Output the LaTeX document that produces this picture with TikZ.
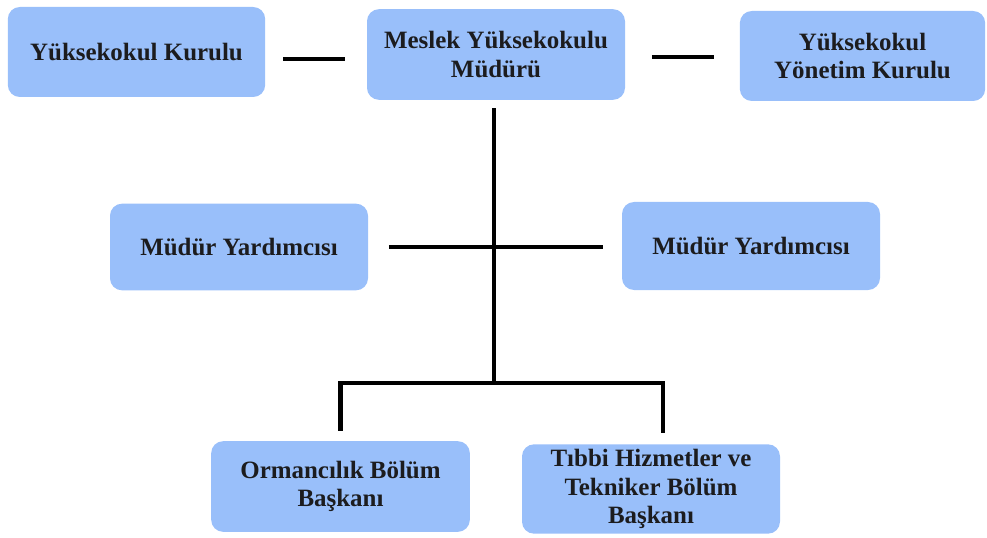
\documentclass[tikz,border=0pt]{standalone}
\usepackage{fontspec}
\setmainfont{Liberation Serif}
\usetikzlibrary{calc}
\definecolor{boxblue}{RGB}{153,191,250}
\definecolor{txt}{RGB}{28,28,30}
\tikzset{
  orgbox/.style={fill=boxblue, draw=none, rounded corners=9pt, align=center,
    text=txt, font=\fontsize{18.7}{21.2}\selectfont\bfseries, inner sep=2pt},
  link/.style={line width=3.4pt, black},
}
\begin{document}
\begin{tikzpicture}[x=0.75pt,y=-0.75pt]
\useasboundingbox (0,0) rectangle (987,538);
\node[orgbox, minimum width=193pt, minimum height=67.5pt] (b1) at (136.5,52) {Yüksekokul Kurulu};
\node[orgbox, minimum width=193.5pt, minimum height=68pt] (b2) at (496,54.5) {Meslek Yüksekokulu\\Müdürü};
\node[orgbox, minimum width=184pt, minimum height=67.5pt] (b3) at (862.5,56) {Yüksekokul\\Yönetim Kurulu};
\node[orgbox, minimum width=193.5pt, minimum height=65pt] (m1) at (239,247) {Müdür Yardımcısı};
\node[orgbox, minimum width=193.5pt, minimum height=66pt] (m2) at (751,246) {Müdür Yardımcısı};
\node[orgbox, minimum width=194pt, minimum height=68pt] (o1) at (340.5,486.5) {Ormancılık Bölüm\\Başkanı};
\node[orgbox, minimum width=193.5pt, minimum height=67pt] (o2) at (651,489) {Tıbbi Hizmetler ve\\Tekniker Bölüm\\Başkanı};
% side links
\coordinate (l1) at ($(b1.east)+(0,7)$);
\draw[link, shorten <=13.5pt, shorten >=16pt] (l1) -- (l1 -| b2.west);
\coordinate (l2) at ($(b2.east)+(0,2.5)$);
\draw[link, shorten <=20pt, shorten >=19pt] (l2) -- (l2 -| b3.west);
% deputies
\draw[link, shorten <=15.5pt, shorten >=14pt] (m1.east) -- (m1.east -| m2.west);
% trunk
\coordinate (j) at (494,383);
\draw[link, shorten <=6pt] (b2.south -| j) -- (j);
% bracket to departments
\coordinate (d1) at ($(o1.north)+(0,-10)$);
\coordinate (d2) at ($(o2.north)+(12,-11)$);
\draw[link] (d1) |- (j) -| (d2);
\end{tikzpicture}
\end{document}
